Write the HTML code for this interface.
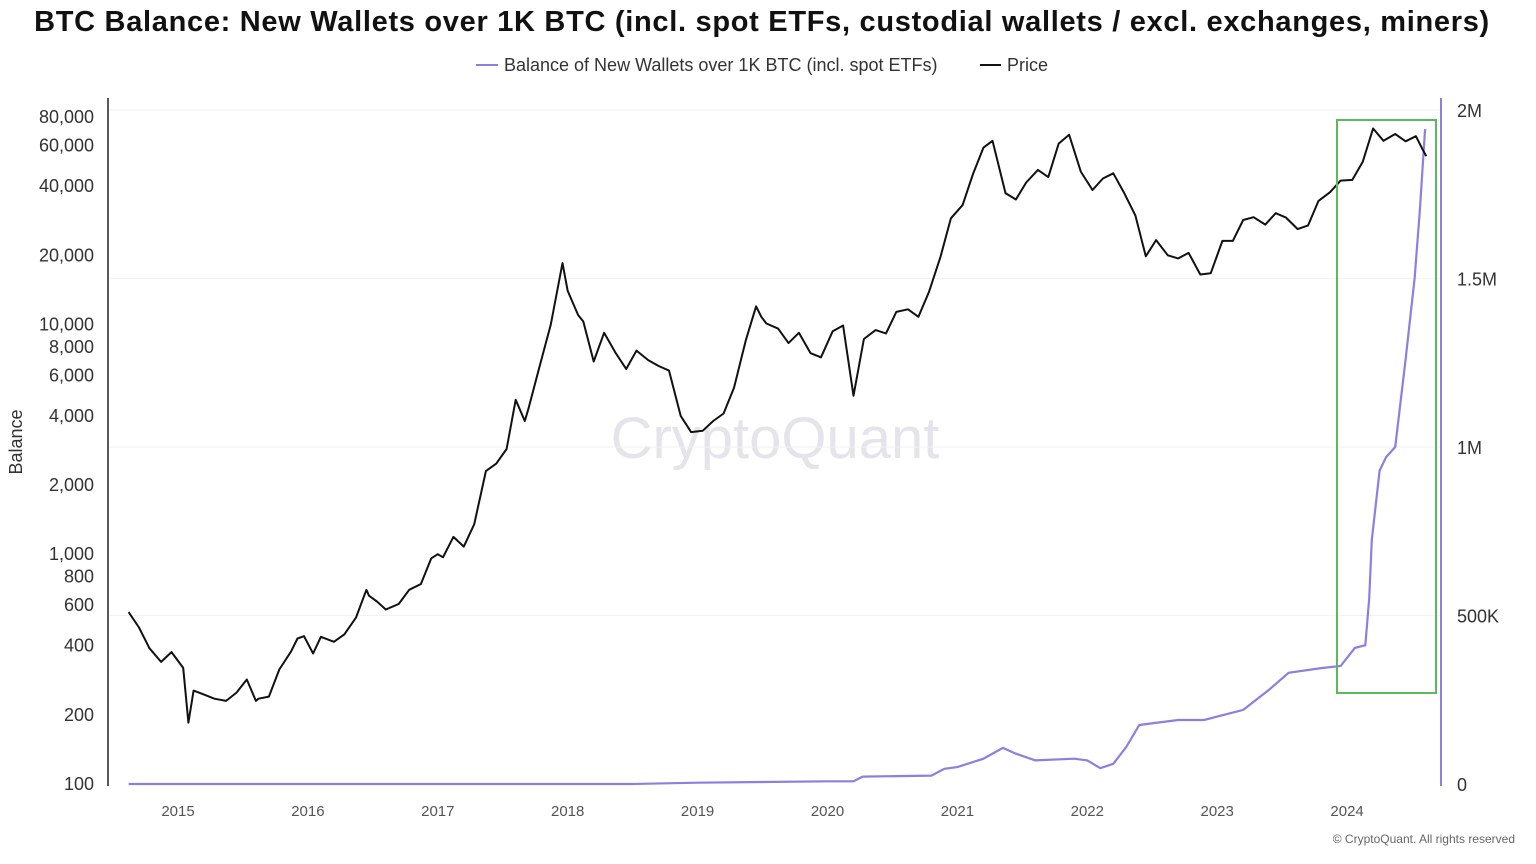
<!DOCTYPE html>
<html><head><meta charset="utf-8"><style>
html,body{margin:0;padding:0;background:#fff;}
body{width:1536px;height:859px;overflow:hidden;font-family:"Liberation Sans",sans-serif;}
svg text{font-family:"Liberation Sans",sans-serif;}
</style></head><body>
<svg id="chart" width="1536" height="859" viewBox="0 0 1536 859">
<text x="762" y="31" text-anchor="middle" font-size="29" letter-spacing="0.7" font-weight="bold" fill="#111">BTC Balance: New Wallets over 1K BTC (incl. spot ETFs, custodial wallets / excl. exchanges, miners)</text>
<g>
<g><line x1="476" y1="65" x2="498" y2="65" stroke="#8b7fe0" stroke-width="2"/><text x="504" y="71" font-size="18" fill="#333">Balance of New Wallets over 1K BTC (incl. spot ETFs)</text></g>
<g><line x1="980" y1="65" x2="1001" y2="65" stroke="#111" stroke-width="2"/><text x="1007" y="71" font-size="18" fill="#333">Price</text></g>
</g>
<text x="775" y="458" text-anchor="middle" font-size="58" fill="#e4e4ea">CryptoQuant</text>
<g id="grid"></g>
<line x1="108" y1="98" x2="108" y2="786" stroke="#222" stroke-width="1.5"/>
<line x1="1441" y1="98" x2="1441" y2="786" stroke="#8b7fe0" stroke-width="2"/>
<text transform="translate(22,442) rotate(-90)" text-anchor="middle" font-size="18" fill="#333">Balance</text>
<g id="ly"></g>
<g id="ry"></g>
<g id="xa"></g>
<g id="series"></g>
<rect x="1337" y="120" width="99" height="573" fill="none" stroke="#5cb85c" stroke-width="2"/>
<text x="1515" y="843" text-anchor="end" font-size="12" fill="#666">© CryptoQuant. All rights reserved</text>
</svg>
<script>
const priceTicks=[100,200,400,600,800,1000,2000,4000,6000,8000,10000,20000,40000,60000,80000];
const balanceTicks=[0,500000,1000000,1500000,2000000];
const balanceTickLabels=["0","500K","1M","1.5M","2M"];
const years=[2015,2016,2017,2018,2019,2020,2021,2022,2023,2024];
const priceDates=[2014.62,2014.7,2014.78,2014.87,2014.95,2015.04,2015.08,2015.12,2015.2,2015.28,2015.37,2015.45,2015.53,2015.6,2015.62,2015.7,2015.78,2015.87,2015.92,2015.97,2016.04,2016.1,2016.2,2016.28,2016.37,2016.45,2016.47,2016.53,2016.6,2016.7,2016.78,2016.87,2016.95,2017.0,2017.04,2017.12,2017.2,2017.28,2017.37,2017.45,2017.53,2017.6,2017.67,2017.7,2017.78,2017.87,2017.96,2018.0,2018.08,2018.12,2018.2,2018.28,2018.37,2018.45,2018.53,2018.62,2018.7,2018.78,2018.87,2018.95,2019.04,2019.12,2019.2,2019.28,2019.37,2019.45,2019.49,2019.53,2019.62,2019.7,2019.78,2019.87,2019.95,2020.04,2020.12,2020.2,2020.28,2020.37,2020.45,2020.53,2020.62,2020.7,2020.78,2020.87,2020.95,2021.04,2021.12,2021.2,2021.27,2021.37,2021.45,2021.53,2021.62,2021.7,2021.78,2021.86,2021.95,2022.04,2022.12,2022.2,2022.28,2022.37,2022.45,2022.53,2022.62,2022.7,2022.78,2022.87,2022.95,2023.04,2023.12,2023.2,2023.28,2023.37,2023.45,2023.53,2023.62,2023.7,2023.78,2023.87,2023.95,2024.04,2024.12,2024.2,2024.28,2024.37,2024.45,2024.53,2024.58,2024.61];
const priceValues=[560,480,390,340,375,320,185,255,245,235,230,250,285,230,235,240,315,377,430,440,370,437,416,448,530,700,660,624,575,608,700,742,960,1000,970,1190,1080,1350,2300,2480,2870,4700,3800,4340,6450,10000,18500,14000,11000,10300,6900,9200,7500,6400,7700,7000,6600,6300,4000,3400,3450,3800,4100,5300,8500,12000,10800,10100,9600,8300,9200,7500,7200,9350,9900,4900,8650,9450,9150,11350,11650,10800,13800,19700,29000,33100,45200,58800,63000,37300,35000,41500,47100,43800,61300,67000,46300,38500,43200,45500,37700,29800,19800,23300,20000,19400,20500,16500,16700,23100,23100,28500,29300,27200,30500,29200,26000,27000,34500,37700,42300,42600,51000,71300,63000,67500,62700,66000,58000,54000];
const balDates=[2014.62,2018.5,2019.0,2019.5,2020.0,2020.2,2020.27,2020.8,2020.9,2021.0,2021.2,2021.35,2021.45,2021.6,2021.9,2022.0,2022.1,2022.2,2022.3,2022.4,2022.7,2022.9,2023.0,2023.2,2023.4,2023.55,2023.8,2023.95,2024.06,2024.14,2024.17,2024.19,2024.25,2024.3,2024.37,2024.45,2024.52,2024.56,2024.6,2024.61];
const balValues=[0,0,4000,6000,8000,8000,22000,25000,45000,50000,75000,107000,90000,70000,75000,70000,47000,60000,110000,175000,190000,190000,200000,220000,280000,330000,344000,350000,404000,412000,550000,724000,930000,970000,1000000,1260000,1500000,1700000,1940000,1940000];

const NS="http://www.w3.org/2000/svg";
const yL=v=>784-(Math.log10(v)-2)/(Math.log10(80000)-2)*667;
const yR=v=>784-v/2000000*674;
const xS=t=>178+(t-2015)*129.9;
function mk(tag,attrs,parent){const e=document.createElementNS(NS,tag);for(const k in attrs)e.setAttribute(k,attrs[k]);parent.appendChild(e);return e;}
const ly=document.getElementById('ly'),ry=document.getElementById('ry'),xa=document.getElementById('xa'),grid=document.getElementById('grid'),series=document.getElementById('series');
priceTicks.forEach(v=>{const t=mk('text',{x:94,y:yL(v)+6,'text-anchor':'end','font-size':18,fill:'#333'},ly);t.textContent=v.toLocaleString('en-US');

});
balanceTicks.forEach((v,i)=>{const t=mk('text',{x:1457,y:yR(v)+7,'font-size':18,fill:'#333'},ry);t.textContent=balanceTickLabels[i];


if(v>0){const g=mk('line',{x1:110,x2:1440,y1:yR(v),y2:yR(v),stroke:'#f2f2f2','stroke-width':1},grid);

}});
years.forEach(y=>{const t=mk('text',{x:xS(y),y:816,'text-anchor':'middle','font-size':15,fill:'#555'},xa);t.textContent=y;

});
const bp=mk('path',{d:balDates.map((d,i)=>(i?'L':'M')+xS(d).toFixed(1)+','+yR(balValues[i]).toFixed(1)).join(''),fill:'none',stroke:'#8b7fe0','stroke-width':2.2},series);


const pp=mk('path',{d:priceDates.map((d,i)=>(i?'L':'M')+xS(d).toFixed(1)+','+yL(priceValues[i]).toFixed(1)).join(''),fill:'none',stroke:'#111','stroke-width':2,'stroke-linejoin':'round'},series);


</script>
</body></html>
